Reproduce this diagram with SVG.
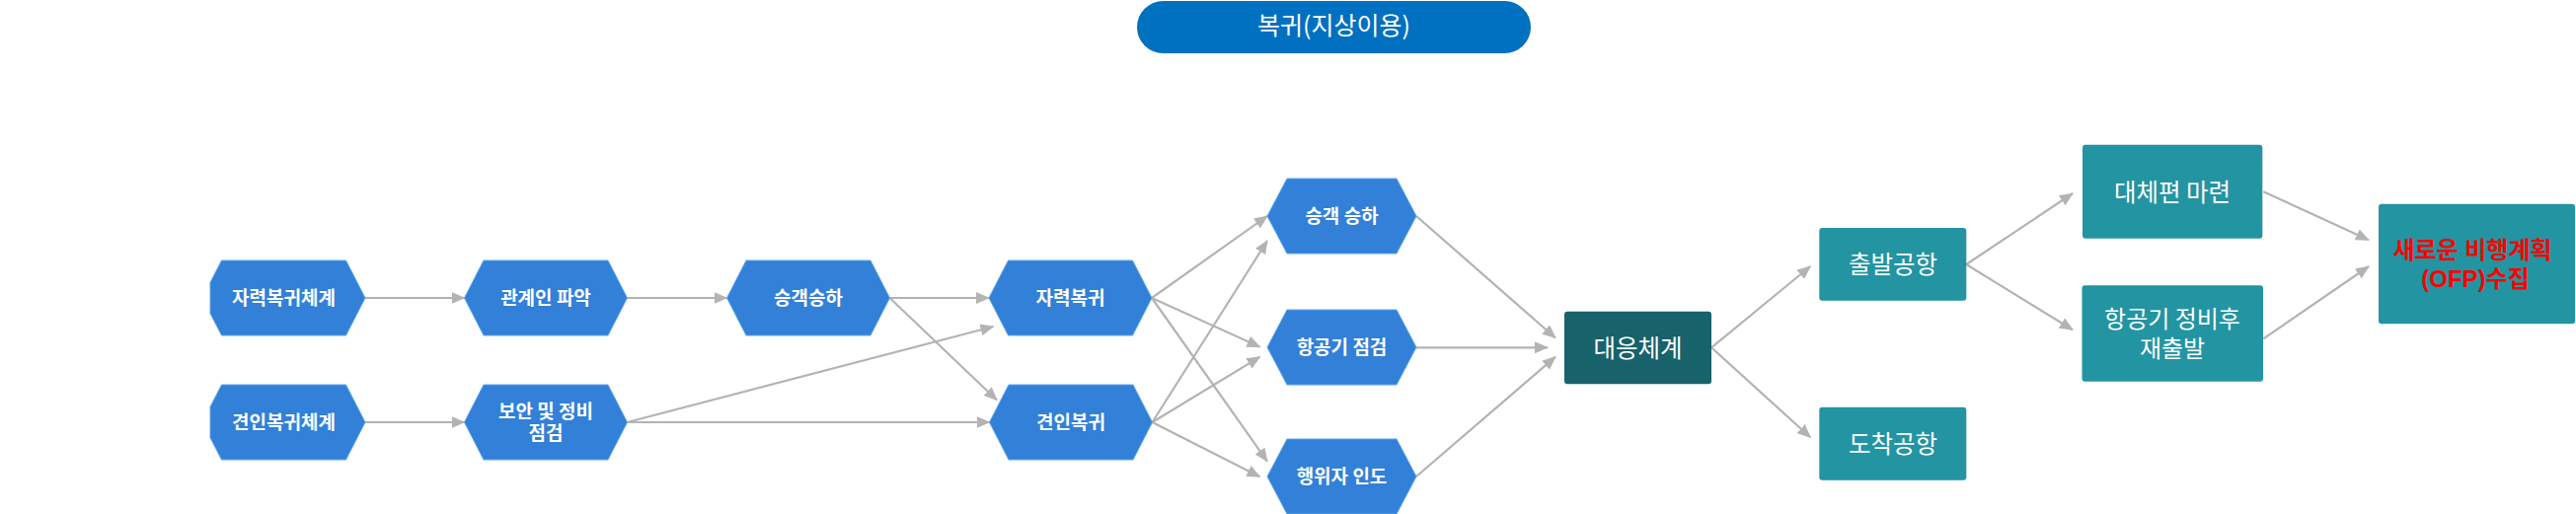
<svg xmlns="http://www.w3.org/2000/svg" width="2610" height="521" viewBox="0 0 2610 521">
<style>
  .hex { fill: #3280D7; stroke: #5AA5EE; stroke-width: 1; }
  .box { fill: #2394A2; }
  .dark { fill: #17626B; }
  .ht { font-family: "Noto Sans CJK KR", "Noto Sans", sans-serif; font-size: 19px; font-weight: bold; fill: #FFFFFF; text-anchor: middle; }
  .bt { font-family: "Noto Sans CJK KR", "Noto Sans", sans-serif; font-size: 24.5px; fill: #FFFFFF; text-anchor: middle; }
  .bt2 { font-family: "Noto Sans CJK KR", "Noto Sans", sans-serif; font-size: 24px; fill: #FFFFFF; text-anchor: middle; }
  .rt { font-family: "Liberation Sans", "Noto Sans CJK KR", sans-serif; font-size: 24px; font-weight: bold; fill: #FF0000; text-anchor: middle; }
  .tt { font-family: "Noto Sans CJK KR", "Noto Sans", sans-serif; font-size: 25px; fill: #FFFFFF; text-anchor: middle; }
  .c { stroke: #B3B3B3; stroke-width: 2.2; fill: none; marker-end: url(#ah); }
</style>
<defs>
  <marker id="ah" markerWidth="14" markerHeight="12" refX="13" refY="6" orient="auto" markerUnits="userSpaceOnUse">
    <path d="M0,0 L14,6 L0,12 z" fill="#B3B3B3"/>
  </marker>
</defs>
<rect width="2610" height="521" fill="#FFFFFF"/>

<g id="title">
  <rect x="1152" y="1" width="399" height="53" rx="26.5" fill="#0070C0"/>
  <text class="tt" x="1351.5" y="34.5">복귀(지상이용)</text>
</g>

<g id="connectors">
  <line class="c" x1="370" y1="302" x2="470.5" y2="302"/>
  <line class="c" x1="370" y1="428" x2="470.5" y2="428"/>
  <line class="c" x1="635.5" y1="302" x2="736.5" y2="302"/>
  <line class="c" x1="901.5" y1="302" x2="1002" y2="302"/>
  <line class="c" x1="901.5" y1="302" x2="1010" y2="405.5"/>
  <line class="c" x1="635.5" y1="428" x2="1006.5" y2="331"/>
  <line class="c" x1="635.5" y1="428" x2="1002.5" y2="428"/>
  <line class="c" x1="1167" y1="302" x2="1284" y2="219"/>
  <line class="c" x1="1167" y1="302" x2="1276.5" y2="351.7"/>
  <line class="c" x1="1167" y1="302" x2="1284" y2="467.7"/>
  <line class="c" x1="1167.5" y1="428" x2="1284" y2="244"/>
  <line class="c" x1="1167.5" y1="428" x2="1276.5" y2="361.7"/>
  <line class="c" x1="1167.5" y1="428" x2="1276.5" y2="483.3"/>
  <line class="c" x1="1435" y1="219" x2="1576" y2="342.5"/>
  <line class="c" x1="1435" y1="352.3" x2="1568" y2="352.3"/>
  <line class="c" x1="1435" y1="483" x2="1576" y2="361.7"/>
  <line class="c" x1="1734" y1="352.3" x2="1834.3" y2="270"/>
  <line class="c" x1="1734" y1="352.3" x2="1834.3" y2="443.3"/>
  <line class="c" x1="1992.3" y1="268" x2="2100" y2="196"/>
  <line class="c" x1="1992.3" y1="268" x2="2100" y2="334.3"/>
  <line class="c" x1="2293.3" y1="194.3" x2="2400" y2="243.3"/>
  <line class="c" x1="2293.3" y1="343.3" x2="2400" y2="270"/>
</g>

<g id="n-jaryeok-system">
  <polygon class="hex" points="213,286.4 224.5,264 350.5,264 370,302 350.5,340 224.5,340 213,317.6"/>
  <text class="ht" x="287.5" y="309.2">자력복귀체계</text>
</g>
<g id="n-gyeonin-system">
  <polygon class="hex" points="213,412.4 224.5,390 350.5,390 370,428 350.5,466 224.5,466 213,443.6"/>
  <text class="ht" x="287.5" y="435.2">견인복귀체계</text>
</g>
<g id="n-gwangyein">
  <polygon class="hex" points="470.5,302 490,264 616,264 635.5,302 616,340 490,340"/>
  <text class="ht" x="553" y="309.2">관계인 파악</text>
</g>
<g id="n-boan">
  <polygon class="hex" points="470.5,428 490,390 616,390 635.5,428 616,466 490,466"/>
  <text class="ht" x="553" y="424.2">보안 및 정비<tspan x="553" dy="22">점검</tspan></text>
</g>
<g id="n-seunggaek1">
  <polygon class="hex" points="736.5,302 756,264 882,264 901.5,302 882,340 756,340"/>
  <text class="ht" x="819" y="309.2">승객승하</text>
</g>
<g id="n-jaryeok">
  <polygon class="hex" points="1002,302 1021.5,264 1147.5,264 1167,302 1147.5,340 1021.5,340"/>
  <text class="ht" x="1084.5" y="309.2">자력복귀</text>
</g>
<g id="n-gyeonin">
  <polygon class="hex" points="1002.5,428 1022,390 1148,390 1167.5,428 1148,466 1022,466"/>
  <text class="ht" x="1085" y="435.2">견인복귀</text>
</g>
<g id="n-seunggaek2">
  <polygon class="hex" points="1284,219 1304,181 1415,181 1435,219 1415,257 1304,257"/>
  <text class="ht" x="1359.5" y="226.2">승객 승하</text>
</g>
<g id="n-jeomgeom">
  <polygon class="hex" points="1284,352 1304,314 1415,314 1435,352 1415,390 1304,390"/>
  <text class="ht" x="1359.5" y="359.2">항공기 점검</text>
</g>
<g id="n-indo">
  <polygon class="hex" points="1284,483 1304,445 1415,445 1435,483 1415,521 1304,521"/>
  <text class="ht" x="1359.5" y="490.2">행위자 인도</text>
</g>

<g id="n-daeeung">
  <rect class="dark" x="1585" y="315.7" width="149" height="73.6" rx="3"/>
  <text class="bt" x="1659.5" y="361.8">대응체계</text>
</g>
<g id="n-chulbal">
  <rect class="box" x="1843.3" y="231" width="149" height="73.7" rx="3"/>
  <text class="bt" x="1918" y="277.3">출발공항</text>
</g>
<g id="n-dochak">
  <rect class="box" x="1843.3" y="412.7" width="149" height="74" rx="3"/>
  <text class="bt" x="1918" y="459">도착공항</text>
</g>
<g id="n-daechepyeon">
  <rect class="box" x="2110" y="146.7" width="182.3" height="95" rx="3"/>
  <text class="bt" x="2201" y="203.5">대체편 마련</text>
</g>
<g id="n-jaechulbal">
  <rect class="box" x="2109.5" y="289.3" width="183.5" height="97.4" rx="3"/>
  <text class="bt2" x="2201" y="331.8">항공기 정비후<tspan x="2201" dy="30">재출발</tspan></text>
</g>
<g id="n-ofp">
  <rect class="box" x="2410" y="206.7" width="199" height="121.6" rx="3"/>
  <text class="rt" x="2505" y="262.1">새로운 비행계획<tspan x="2508" dy="29">(OFP)수집</tspan></text>
</g>
</svg>
